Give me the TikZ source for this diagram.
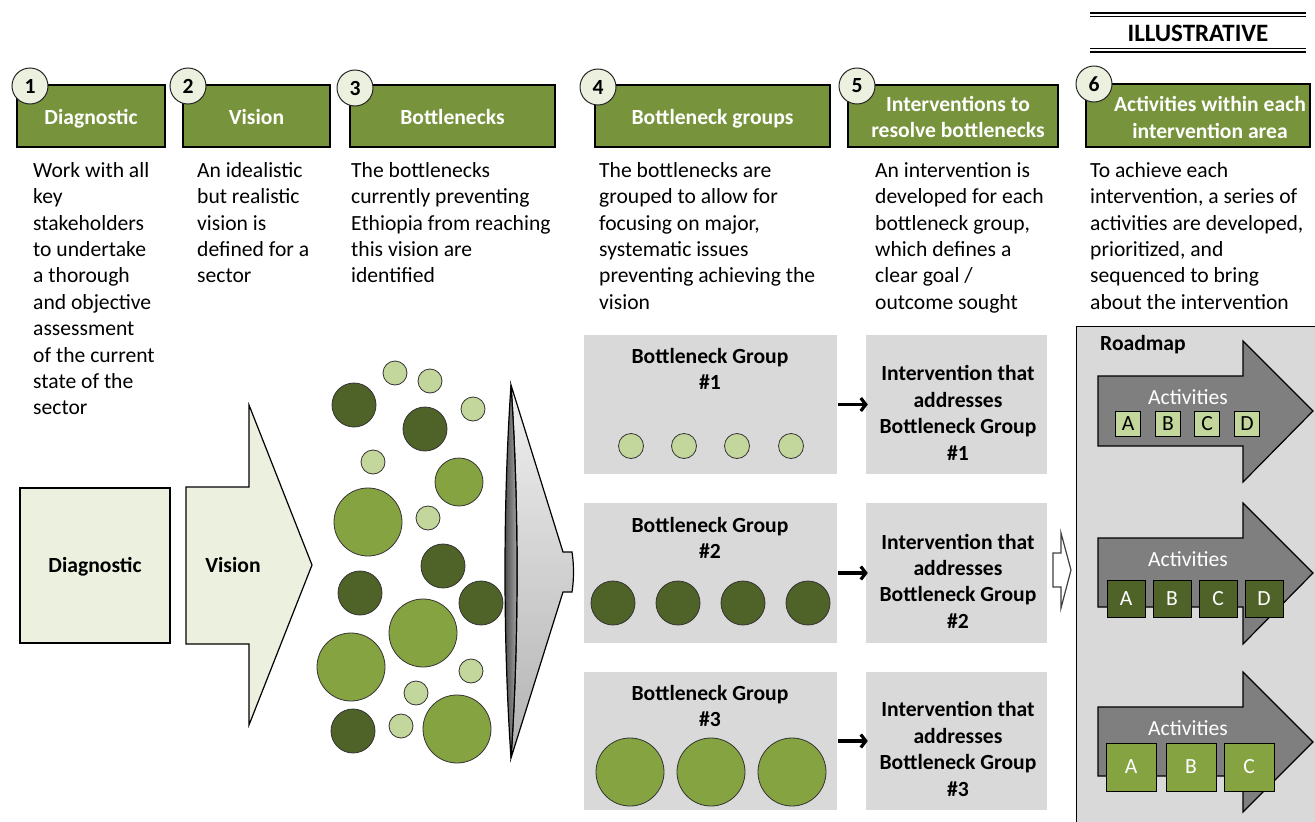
\documentclass[tikz,border=0pt]{standalone}
\usepackage{fontspec}
\setmainfont{Carlito}
\usetikzlibrary{arrows.meta}
\definecolor{hdrgreen}{HTML}{77933C}
\definecolor{darkgreen}{HTML}{4F6228}
\definecolor{midgreen}{HTML}{86A342}
\definecolor{lightgreen}{HTML}{C3D69B}
\definecolor{palegreen}{HTML}{EBF1DE}
\definecolor{boxgray}{HTML}{D9D9D9}
\definecolor{arrowgray}{HTML}{7F7F7F}
\begin{document}
\begin{tikzpicture}[x=1pt,y=-1pt,
  hdr/.style={draw=black, line width=1.3pt, fill=hdrgreen, text=white, font=\bfseries\fontsize{21.6}{26.4}\selectfont, align=center, inner sep=0pt, minimum height=62pt, text height=20pt, text depth=4pt},
  hdrtxt/.style={text=white, font=\bfseries\fontsize{21.6}{26.4}\selectfont, align=center, inner sep=0pt},
  numc/.style={circle, draw=black!85, line width=1pt, fill=palegreen, minimum size=36pt, inner sep=0pt, font=\bfseries\fontsize{21.6}{26.4}\selectfont},
  desc/.style={anchor=north west, align=left, inner sep=0pt, font=\fontsize{21.6}{26.4}\selectfont},
  boldtxt/.style={align=center, inner sep=0pt, font=\bfseries\fontsize{21.6}{26.4}\selectfont},
  graybox/.style={fill=boxgray, draw=none, inner sep=0pt},
  bub/.style={circle, draw=black!80, line width=0.8pt, inner sep=0pt},
  lightb/.style={bub, fill=lightgreen},
  darkb/.style={bub, fill=darkgreen},
  midb/.style={bub, fill=midgreen},
  actbox/.style={draw=black, line width=1pt, inner sep=0pt, font=\fontsize{21.6}{26.4}\selectfont},
  road/.style={draw=black, line width=1.2pt, fill=arrowgray},
  conn/.style={-{Straight Barb[length=5pt,width=13pt]}, line width=3.2pt, draw=black}
]
\useasboundingbox (0,0) rectangle (1315,822);

% ---------- ILLUSTRATIVE ----------
\draw[line width=1.2pt] (1090,13) -- (1306,13) (1090,16.5) -- (1306,16.5);
\draw[line width=1.2pt] (1090,48.5) -- (1306,48.5) (1090,52) -- (1306,52);
\node[inner sep=0pt, font=\bfseries\fontsize{25}{30}\selectfont] (illus) at (1198,33) {ILLUSTRATIVE};

% ---------- header boxes ----------
\node[hdr, minimum width=148pt] (h1) at (91,116) {Diagnostic};
\node[hdr, minimum width=147pt] (h2) at (256.5,116) {Vision};
\node[hdr, minimum width=205pt] (h3) at (452.5,116) {Bottlenecks};
\node[hdr, minimum width=235pt] (h4) at (712.5,116) {Bottleneck groups};
\node[hdr, minimum width=210pt] (h5) at (953,116) {};
\node[hdrtxt] (h5t) at (958,117) {Interventions to\\resolve bottlenecks};
\node[hdr, minimum width=224pt, minimum height=63pt] (h6) at (1198,115.5) {};
\node[hdrtxt] (h6t) at (1210,117.5) {Activities within each\\intervention area};

\node[numc] (n1) at (30,86) {1};
\node[numc] (n2) at (188,86) {2};
\node[numc] (n3) at (355,88) {3};
\node[numc] (n4) at (598,87) {4};
\node[numc] (n5) at (857,86) {5};
\node[numc] (n6) at (1094,84) {6};

% ---------- descriptions ----------
\node[desc] (d1) at (33,160) {\rule{0pt}{17pt}Work with all\\key\\stakeholders\\to undertake\\a thorough\\and objective\\assessment\\of the current\\state of the\\sector};
\node[desc] (d2) at (197,160) {\rule{0pt}{17pt}An idealistic\\but realistic\\vision is\\defined for a\\sector};
\node[desc] (d3) at (351,160) {\rule{0pt}{17pt}The bottlenecks\\currently preventing\\Ethiopia from reaching\\this vision are\\identified};
\node[desc] (d4) at (599,160) {\rule{0pt}{17pt}The bottlenecks are\\grouped to allow for\\focusing on major,\\systematic issues\\preventing achieving the\\vision};
\node[desc] (d5) at (875,160) {\rule{0pt}{17pt}An intervention is\\developed for each\\bottleneck group,\\which defines a\\clear goal /\\outcome sought};
\node[desc] (d6) at (1090,160) {\rule{0pt}{17pt}To achieve each\\intervention, a series of\\activities are developed,\\prioritized, and\\sequenced to bring\\about the intervention};

% ---------- diagnostic & vision ----------
\node[draw=black, line width=1.2pt, fill=palegreen, minimum width=150pt, minimum height=155pt, inner sep=0pt, text height=18pt, text depth=4pt, font=\bfseries\fontsize{21.6}{26.4}\selectfont] (diag) at (95,565.5) {Diagnostic};
\draw[line width=1.2pt, fill=palegreen] (186,487) -- (249,487) -- (249,405) -- (312,565) -- (249,725) -- (249,644) -- (186,644) -- cycle;
\node[boldtxt] (vis) at (233,565) {Vision};

% ---------- bottleneck bubbles ----------
\node[lightb, minimum size=24pt] (b1) at (395,373) {};
\node[lightb, minimum size=24pt] (b2) at (430,381) {};
\node[darkb, minimum size=44pt] (b3) at (354,405) {};
\node[darkb, minimum size=44pt] (b4) at (425,429) {};
\node[lightb, minimum size=24pt] (b5) at (473,409) {};
\node[lightb, minimum size=24pt] (b6) at (373,462) {};
\node[midb, minimum size=48pt] (b7) at (459,482) {};
\node[midb, minimum size=68pt] (b8) at (368,522) {};
\node[lightb, minimum size=24pt] (b9) at (428,518) {};
\node[darkb, minimum size=44pt] (b10) at (443,566) {};
\node[darkb, minimum size=44pt] (b11) at (360,593) {};
\node[darkb, minimum size=44pt] (b12) at (481,603) {};
\node[midb, minimum size=68pt] (b13) at (423,633) {};
\node[midb, minimum size=68pt] (b14) at (351,667) {};
\node[lightb, minimum size=24pt] (b15) at (471,671) {};
\node[lightb, minimum size=24pt] (b16) at (416,693) {};
\node[darkb, minimum size=44pt] (b17) at (353,731) {};
\node[lightb, minimum size=24pt] (b18) at (401,726) {};
\node[midb, minimum size=68pt] (b19) at (457,729) {};

% ---------- funnel ----------
\shade[top color=gray!12, bottom color=gray!60, draw=black, line width=1.2pt]
  (511,385) -- (563,552) -- (572,552) .. controls (574,565) and (574,579) .. (572,592) -- (563,592) -- (511,758)
  .. controls (519,640) and (519,503) .. (511,385) -- cycle;
\shade[left color=gray!50!black, right color=gray!60, draw=black, line width=1.2pt]
  (511,385) .. controls (503,503) and (503,640) .. (511,758)
  .. controls (519,640) and (519,503) .. (511,385) -- cycle;

% ---------- bottleneck groups ----------
\node[graybox, minimum width=253pt, minimum height=139pt] (g1) at (710.5,404.5) {};
\node[boldtxt] (g1t) at (710,369) {Bottleneck Group\\\#1};
\node[lightb, minimum size=25pt] (g1a) at (631,446) {};
\node[lightb, minimum size=25pt] (g1b) at (684,446) {};
\node[lightb, minimum size=25pt] (g1c) at (737,446) {};
\node[lightb, minimum size=25pt] (g1d) at (791,446) {};

\node[graybox, minimum width=253pt, minimum height=140pt] (g2) at (710.5,573) {};
\node[boldtxt] (g2t) at (710,538) {Bottleneck Group\\\#2};
\node[darkb, minimum size=44pt] (g2a) at (613,603) {};
\node[darkb, minimum size=44pt] (g2b) at (678,603) {};
\node[darkb, minimum size=44pt] (g2c) at (743,603) {};
\node[darkb, minimum size=44pt] (g2d) at (808,603) {};

\node[graybox, minimum width=253pt, minimum height=138pt] (g3) at (710.5,741) {};
\node[boldtxt] (g3t) at (710,706) {Bottleneck Group\\\#3};
\node[midb, minimum size=68pt] (g3a) at (630,772) {};
\node[midb, minimum size=68pt] (g3b) at (711,772) {};
\node[midb, minimum size=68pt] (g3c) at (792,772) {};

% ---------- interventions ----------
\node[graybox, minimum width=181pt, minimum height=139pt] (i1) at (956.5,404.5) {};
\node[boldtxt] (i1t) at (958,413) {Intervention that\\addresses\\Bottleneck Group\\\#1};
\node[graybox, minimum width=181pt, minimum height=140pt] (i2) at (956.5,573) {};
\node[boldtxt] (i2t) at (958,581) {Intervention that\\addresses\\Bottleneck Group\\\#2};
\node[graybox, minimum width=181pt, minimum height=138pt] (i3) at (956.5,741) {};
\node[boldtxt] (i3t) at (958,749) {Intervention that\\addresses\\Bottleneck Group\\\#3};

\draw[conn] ([xshift=1pt]g1.east) -- ([xshift=2pt]i1.west);
\draw[conn] ([xshift=1pt]g2.east) -- ([xshift=2pt]i2.west);
\draw[conn] ([xshift=1pt]g3.east) -- ([xshift=2pt]i3.west);

% hollow arrow
\draw[line width=1.2pt, draw=black!75, fill=white] (1053,553) -- (1061,553) -- (1061,533) -- (1071,570) -- (1061,608) -- (1061,587) -- (1053,587) -- cycle;

% ---------- roadmap ----------
\node[draw=black, line width=1.2pt, fill=boxgray, anchor=north west, minimum width=260pt, minimum height=520pt, inner sep=0pt] (road) at (1076,326) {};
\node[boldtxt, anchor=west] (roadt) at (1100,345) {Roadmap};

\draw[road] (1098,376) -- (1243,376) -- (1243,341) -- (1313,411) -- (1243,482) -- (1243,446) -- (1098,446) -- cycle;
\draw[road] (1098,538) -- (1243,538) -- (1243,503) -- (1313,573) -- (1243,644) -- (1243,607) -- (1098,607) -- cycle;
\draw[road] (1098,707) -- (1243,707) -- (1243,672) -- (1313,742) -- (1243,812) -- (1243,776) -- (1098,776) -- cycle;

\node[text=white, inner sep=0pt, font=\fontsize{21.6}{26.4}\selectfont] (a1t) at (1188,397) {Activities};
\node[text=white, inner sep=0pt, font=\fontsize{21.6}{26.4}\selectfont] (a2t) at (1188,559) {Activities};
\node[text=white, inner sep=0pt, font=\fontsize{21.6}{26.4}\selectfont] (a3t) at (1188,728) {Activities};

\node[actbox, fill=lightgreen, minimum width=25pt, minimum height=25pt] (a1a) at (1128,424) {A};
\node[actbox, fill=lightgreen, minimum width=25pt, minimum height=25pt] (a1b) at (1168,424) {B};
\node[actbox, fill=lightgreen, minimum width=25pt, minimum height=25pt] (a1c) at (1207,424) {C};
\node[actbox, fill=lightgreen, minimum width=25pt, minimum height=25pt] (a1d) at (1247,424) {D};

\node[actbox, fill=darkgreen, text=white, minimum width=38pt, minimum height=37pt] (a2a) at (1126,599) {A};
\node[actbox, fill=darkgreen, text=white, minimum width=38pt, minimum height=37pt] (a2b) at (1172,599) {B};
\node[actbox, fill=darkgreen, text=white, minimum width=38pt, minimum height=37pt] (a2c) at (1218,599) {C};
\node[actbox, fill=darkgreen, text=white, minimum width=38pt, minimum height=37pt] (a2d) at (1264,599) {D};

\node[actbox, fill=midgreen, text=white, minimum width=50pt, minimum height=48pt] (a3a) at (1131,767) {A};
\node[actbox, fill=midgreen, text=white, minimum width=50pt, minimum height=48pt] (a3b) at (1191,767) {B};
\node[actbox, fill=midgreen, text=white, minimum width=50pt, minimum height=48pt] (a3c) at (1249,767) {C};
\end{tikzpicture}
\end{document}
